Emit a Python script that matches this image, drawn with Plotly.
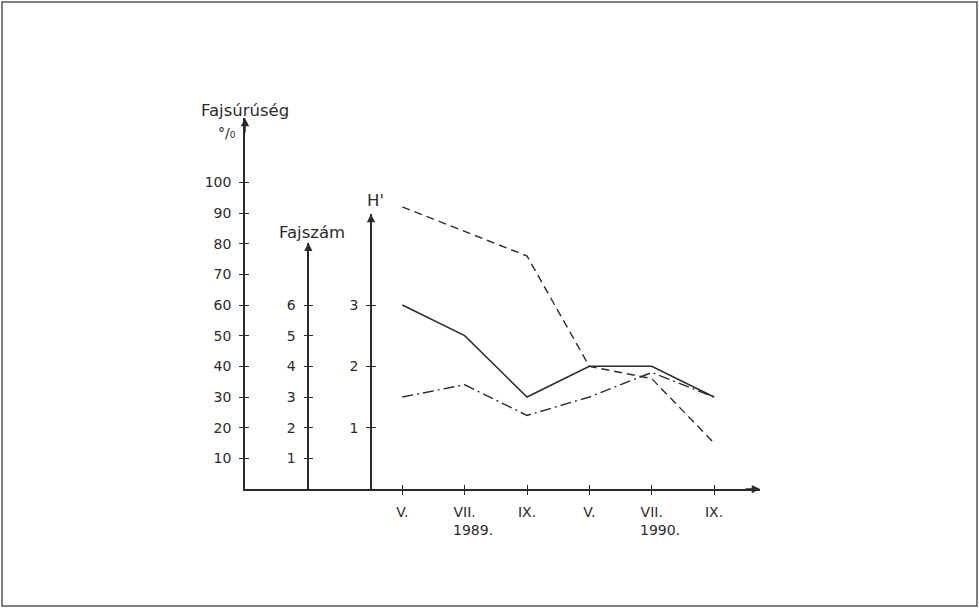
import plotly.graph_objects as go

# ---- data -------------------------------------------------------------
months = ["V.", "VII.", "IX.", "V.", "VII.", "IX."]
years = ["1989.", "1990."]
# Fajsűrűség (%), dashed
species_density_pct = [92, 84, 76, 40, 36, 15]
# Fajszám, dash-dot
species_count = [3.0, 3.4, 2.4, 3.0, 3.8, 3.0]
# Shannon diversity H', solid
shannon_h = [3.0, 2.5, 1.5, 2.0, 2.0, 1.5]

pct_ticks = [10, 20, 30, 40, 50, 60, 70, 80, 90, 100]
count_ticks = [1, 2, 3, 4, 5, 6]
h_ticks = [1, 2, 3]

# ---- page geometry (pixels) ------------------------------------------
W, H = 979, 608
ML, MR, MT, MB = 245, 219, 118, 119
PW, PH = W - ML - MR, H - MT - MB
x_pos = list(range(len(months)))
X_RANGE = [-2.523, 5.737]
PCT_TOP = 121.0           # top of the % axis
COUNT_POS, COUNT_DOM = 0.1229, 0.664   # Fajszám axis: x position / height
H_POS, H_DOM = 0.2447, 0.741           # H' axis: x position / height

INK = "#2b2b2b"
FONT = "DejaVu Sans"

fig = go.Figure()

fig.add_trace(go.Scatter(
    x=x_pos, y=species_density_pct, mode="lines", yaxis="y",
    line=dict(color=INK, width=1.4, dash="8px,5px"),
    showlegend=False, hoverinfo="skip"))
fig.add_trace(go.Scatter(
    x=x_pos, y=species_count, mode="lines", yaxis="y2",
    line=dict(color=INK, width=1.4, dash="11px,4px,2px,4px"),
    showlegend=False, hoverinfo="skip"))
fig.add_trace(go.Scatter(
    x=x_pos, y=shannon_h, mode="lines", yaxis="y3",
    line=dict(color=INK, width=1.5),
    showlegend=False, hoverinfo="skip"))

# empty traces so the tick-only overlay axes get drawn
for xa, ya in [("x", "y4"), ("x", "y5"), ("x", "y6"), ("x2", "y")]:
    fig.add_trace(go.Scatter(x=[None], y=[None], xaxis=xa, yaxis=ya,
                             showlegend=False, hoverinfo="skip"))

tickfont = dict(family=FONT, size=14, color=INK)
common = dict(showgrid=False, zeroline=False, tickcolor=INK, tickwidth=1.2,
              tickfont=tickfont)

lay = dict(
    width=W, height=H,
    margin=dict(l=ML, r=MR, t=MT, b=MB, pad=0),
    paper_bgcolor="white", plot_bgcolor="rgba(0,0,0,0)",
    xaxis=dict(range=X_RANGE, tickvals=x_pos, ticktext=months,
               ticks="outside", ticklen=4, showline=True, linecolor=INK,
               linewidth=1.5, ticklabelstandoff=5, **common),
    xaxis2=dict(range=X_RANGE, overlaying="x", anchor="y", tickvals=x_pos,
                ticks="inside", ticklen=4, showticklabels=False,
                showline=False, **common),
    yaxis=dict(range=[0, PCT_TOP], tickvals=pct_ticks, ticks="outside",
               ticklen=4, showline=True, linecolor=INK, linewidth=1.5,
               ticklabelstandoff=5, **common),
    yaxis4=dict(range=[0, PCT_TOP], overlaying="y", tickvals=pct_ticks,
                ticks="inside", ticklen=4, showticklabels=False,
                showline=False, **common),
    yaxis2=dict(domain=[0, COUNT_DOM], range=[0, COUNT_DOM * PCT_TOP / 10],
                anchor="free", position=COUNT_POS, side="left",
                tickvals=count_ticks, ticks="outside", ticklen=4,
                showline=True, linecolor=INK, linewidth=1.5,
                ticklabelstandoff=5, **common),
    yaxis5=dict(domain=[0, COUNT_DOM], range=[0, COUNT_DOM * PCT_TOP / 10],
                anchor="free", position=COUNT_POS, side="left",
                tickvals=count_ticks, ticks="inside", ticklen=4,
                showticklabels=False, showline=False, **common),
    yaxis3=dict(domain=[0, H_DOM], range=[0, H_DOM * PCT_TOP / 20],
                anchor="free", position=H_POS, side="left",
                tickvals=h_ticks, ticks="outside", ticklen=4,
                showline=True, linecolor=INK, linewidth=1.5,
                ticklabelstandoff=5, **common),
    yaxis6=dict(domain=[0, H_DOM], range=[0, H_DOM * PCT_TOP / 20],
                anchor="free", position=H_POS, side="left",
                tickvals=h_ticks, ticks="inside", ticklen=4,
                showticklabels=False, showline=False, **common),
)
fig.update_layout(**lay)

# arrow heads on the axis ends
arrow = dict(xref="paper", yref="paper", text="", showarrow=True,
             arrowhead=2, arrowsize=1.1, arrowwidth=1.5, arrowcolor=INK)
fig.add_annotation(x=0, y=1, ax=0, ay=16, **arrow)
fig.add_annotation(x=COUNT_POS, y=COUNT_DOM, ax=0, ay=16, **arrow)
fig.add_annotation(x=H_POS, y=H_DOM, ax=0, ay=16, **arrow)
fig.add_annotation(x=1, y=0, ax=-16, ay=0, **arrow)

labfont = dict(family=FONT, size=16.5, color=INK)
label = dict(xref="paper", yref="paper", showarrow=False,
             xanchor="center", yanchor="middle")
fig.add_annotation(x=0, y=1, text="Fajsúrúség", yshift=8, font=labfont,
                   **label)
fig.add_annotation(x=0, y=1, text="°/₀", xshift=-18, yshift=-15,
                   font=tickfont, **label)
fig.add_annotation(x=COUNT_POS, y=COUNT_DOM, text="Fajszám", xshift=4,
                   yshift=10, font=labfont, **label)
fig.add_annotation(x=H_POS, y=H_DOM, text="H'", xshift=4, yshift=14,
                   font=labfont, **label)

# year labels under the July ticks
for xv, yr in zip([1, 4], years):
    fig.add_annotation(x=xv, y=0, xref="x", yref="paper", text=yr,
                       showarrow=False, xanchor="center", yanchor="middle",
                       xshift=8, yshift=-41, font=tickfont)

# frame around the page
fig.add_shape(type="rect", xref="paper", yref="paper",
              x0=(2 - ML) / PW, x1=(W - 2 - ML) / PW,
              y0=(H - MB - (H - 2)) / PH, y1=(H - MB - 2) / PH,
              line=dict(color="#555", width=1.5), layer="below")

fig.write_html("out.html")
